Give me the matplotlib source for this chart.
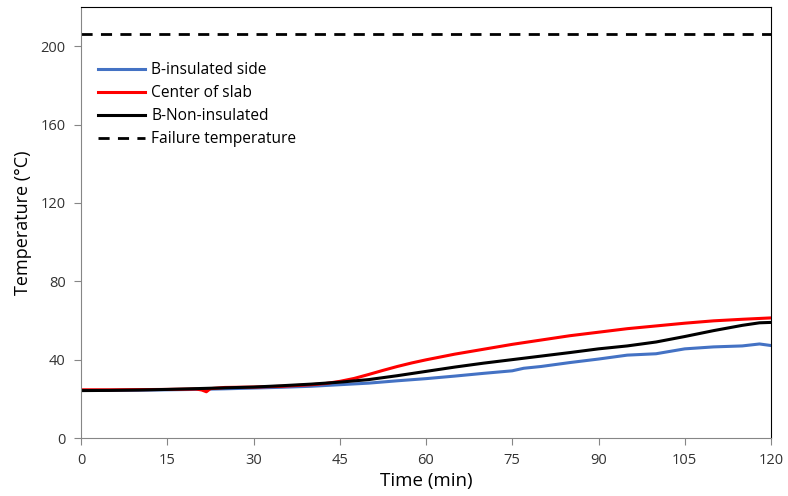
import matplotlib
matplotlib.use("Agg")
import matplotlib.pyplot as plt

plt.rcParams['font.family'] = ['Open Sans', 'DejaVu Sans']

t_blue = [0, 5, 10, 15, 20, 25, 30, 35, 40, 45, 50, 55, 60, 65, 70, 75, 77, 80, 85, 90, 95, 100, 105, 110, 115, 118, 120]
blue = [24.3, 24.3, 24.4, 24.6, 24.8, 25.1, 25.5, 25.9, 26.4, 27.2, 28.0, 29.2, 30.3, 31.6, 33.0, 34.3, 35.6, 36.5, 38.5, 40.3, 42.3, 43.0, 45.5, 46.5, 47.0, 48.0, 47.2]

t_black = [0, 5, 10, 15, 20, 25, 30, 35, 40, 45, 50, 55, 60, 65, 70, 75, 80, 85, 90, 95, 100, 105, 110, 115, 118, 120]
black = [24.2, 24.3, 24.5, 24.8, 25.2, 25.6, 26.0, 26.7, 27.5, 28.5, 29.8, 31.8, 34.0, 36.2, 38.2, 40.0, 41.8, 43.6, 45.5, 47.0, 49.0, 51.8, 54.8, 57.5, 58.8, 59.0]

t_red = [0, 5, 10, 15, 20, 21, 21.8, 22.5, 25, 30, 35, 40, 42.5, 45, 47.5, 50, 52.5, 55, 57.5, 60, 65, 70, 75, 80, 85, 90, 95, 100, 105, 110, 115, 120]
red = [24.6, 24.6, 24.7, 24.8, 25.0, 24.5, 23.6, 25.2, 25.8, 26.0, 26.4, 27.2, 27.8, 28.9, 30.4, 32.4, 34.5, 36.5, 38.3, 39.9, 42.8, 45.3, 47.8, 50.0, 52.2, 54.0, 55.8, 57.2, 58.6, 59.8, 60.6, 61.3]

failure_temp = 206
x_ticks = [0, 15, 30, 45, 60, 75, 90, 105, 120]
y_ticks = [0, 40, 80, 120, 160, 200]

fig = plt.figure(figsize=(7.88, 4.96), dpi=100)
ax = fig.add_axes([81/788, 58/496, 690/788, 431/496])

ax.plot(t_blue, blue, color='#4472C4', lw=2.2, label='B-insulated side')
ax.plot(t_red, red, color='#FF0000', lw=2.2, label='Center of slab')
ax.plot(t_black, black, color='black', lw=2.2, label='B-Non-insulated')
ax.axhline(failure_temp, color='black', lw=2, ls=(0, (4, 3)), label='Failure temperature')

ax.set_xlim(0, 120)
ax.set_ylim(0, 220)
ax.set_xticks(x_ticks)
ax.set_yticks(y_ticks)
ax.tick_params(axis='both', direction='out', length=5, color='#868686', labelsize=10.5, labelcolor='#333333', pad=6)
for s in ['left', 'bottom']:
    ax.spines[s].set_color('#868686')
for s in ['top', 'right']:
    ax.spines[s].set_color('black')

ax.set_xlabel('Time (min)', fontsize=13.5, labelpad=3)
ax.set_ylabel('Temperature (°C)', fontsize=13, labelpad=6)

ax.legend(loc='upper left', bbox_to_anchor=(0.005, 0.905), frameon=False, fontsize=11.2,
          handlelength=3.0, handletextpad=0.4, labelspacing=0.45)

fig.savefig('out.png', dpi=100)
